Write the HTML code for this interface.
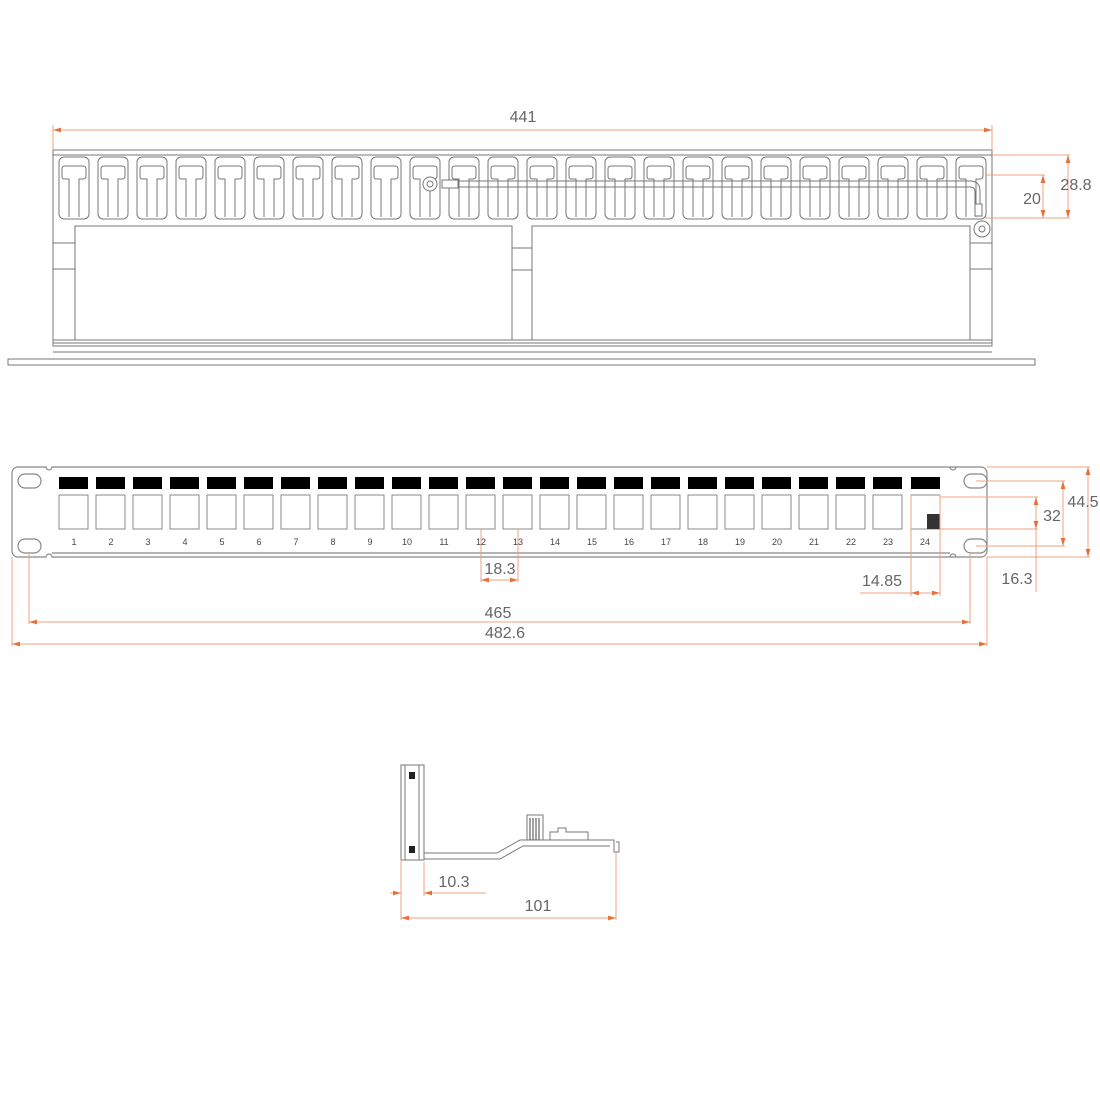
<!DOCTYPE html>
<html><head><meta charset="utf-8"><style>html,body{margin:0;padding:0;background:#fff}svg{display:block}</style></head>
<body>
<svg width="1100" height="1100" viewBox="0 0 1100 1100" xmlns="http://www.w3.org/2000/svg" font-family="Liberation Sans, sans-serif">
<defs>
<g id="slot" fill="none" stroke="#777" stroke-width="1">
<rect x="0" y="0" width="30" height="62" rx="5"/>
<path d="M10 60 V22 H5 Q3 22 3 19 V12 Q3 9 6 9 H24 Q27 9 27 12 V19 Q27 22 24 22 H20 V60"/>
</g>
<g id="port">
<rect x="0" y="0" width="29" height="12" fill="#000"/>
<rect x="0" y="18" width="29" height="34" fill="#fff" stroke="#888"/>
</g>
<marker id="ar" viewBox="0 0 10 6" refX="10" refY="3" markerWidth="8" markerHeight="5" orient="auto-start-reverse"><path d="M0 0L10 3L0 6z" fill="#e8703a"/></marker>
</defs>

<!-- TOP VIEW -->
<g fill="none" stroke="#777" stroke-width="1">
<rect x="53" y="150" width="939" height="196"/>
<line x1="53" y1="155" x2="992" y2="155"/>
<path d="M75 340 V226 H512 V340 M532 340 V226 H970 V340"/>
<path d="M512 248 H532 M512 270 H532 M53 243 H75 M53 269 H75 M970 243 H992 M970 269 H992"/>
<line x1="53" y1="340" x2="992" y2="340"/>
<line x1="53" y1="343" x2="992" y2="343"/>
<line x1="53" y1="352" x2="992" y2="352"/>
<rect x="8" y="359" width="1027" height="6"/>
</g>
<g>
<use href="#slot" x="59" y="157"/><use href="#slot" x="98" y="157"/><use href="#slot" x="137" y="157"/><use href="#slot" x="176" y="157"/><use href="#slot" x="215" y="157"/><use href="#slot" x="254" y="157"/><use href="#slot" x="293" y="157"/><use href="#slot" x="332" y="157"/><use href="#slot" x="371" y="157"/><use href="#slot" x="410" y="157"/><use href="#slot" x="449" y="157"/><use href="#slot" x="488" y="157"/><use href="#slot" x="527" y="157"/><use href="#slot" x="566" y="157"/><use href="#slot" x="605" y="157"/><use href="#slot" x="644" y="157"/><use href="#slot" x="683" y="157"/><use href="#slot" x="722" y="157"/><use href="#slot" x="761" y="157"/><use href="#slot" x="800" y="157"/><use href="#slot" x="839" y="157"/><use href="#slot" x="878" y="157"/><use href="#slot" x="917" y="157"/><use href="#slot" x="956" y="157"/>
</g>
<!-- ground wire -->
<g fill="none" stroke="#777" stroke-width="1">
<path d="M458 181 H970 Q980 181 980 191 V205 M458 187 H970 Q975 187 975 192 V205"/>
<circle cx="430" cy="184" r="7" fill="#fff"/><circle cx="430" cy="184" r="3"/>
<rect x="442" y="180" width="16" height="8" fill="#fff"/>
<rect x="975" y="204" width="7" height="12" fill="#fff"/>
<circle cx="982" cy="229" r="8" fill="#fff"/><circle cx="982" cy="229" r="3"/>
</g>
<!-- top dims -->
<g stroke="#f0a080" stroke-width="1" fill="none">
<line x1="53" y1="125" x2="53" y2="150"/><line x1="992" y1="125" x2="992" y2="150"/>
<line x1="53" y1="130" x2="992" y2="130" marker-start="url(#ar)" marker-end="url(#ar)"/>
<line x1="992" y1="155" x2="1070" y2="155"/><line x1="985" y1="218" x2="1070" y2="218"/>
<line x1="985" y1="175" x2="1045" y2="175"/>
<line x1="1068" y1="155" x2="1068" y2="218" marker-start="url(#ar)" marker-end="url(#ar)"/>
<line x1="1043" y1="175" x2="1043" y2="218" marker-start="url(#ar)" marker-end="url(#ar)"/>
</g>
<g fill="#666" font-size="16">
<text x="523" y="122" text-anchor="middle">441</text>
<text x="1076" y="190" text-anchor="middle">28.8</text>
<text x="1032" y="204" text-anchor="middle">20</text>
</g>

<!-- FRONT VIEW -->
<g fill="none" stroke="#888" stroke-width="1.2">
<path d="M18 467 H46 A3 3 0 0 0 52 467 H981 A6 6 0 0 1 987 473 V551 A6 6 0 0 1 981 557 H52 A3 3 0 0 0 46 557 H18 A6 6 0 0 1 12 551 V473 A6 6 0 0 1 18 467 Z"/>
<path d="M950 467 A3 3 0 0 0 956 467 M950 557 A3 3 0 0 1 956 557"/>
<line x1="52" y1="553" x2="950" y2="553"/>
<rect x="18" y="474" width="23" height="14" rx="7"/><rect x="18" y="539" width="23" height="14" rx="7"/>
<rect x="964" y="474" width="23" height="14" rx="7"/><rect x="964" y="539" width="23" height="14" rx="7"/>
</g>
<g>
<use href="#port" x="59" y="477"/><use href="#port" x="96" y="477"/><use href="#port" x="133" y="477"/><use href="#port" x="170" y="477"/><use href="#port" x="207" y="477"/><use href="#port" x="244" y="477"/><use href="#port" x="281" y="477"/><use href="#port" x="318" y="477"/><use href="#port" x="355" y="477"/><use href="#port" x="392" y="477"/><use href="#port" x="429" y="477"/><use href="#port" x="466" y="477"/><use href="#port" x="503" y="477"/><use href="#port" x="540" y="477"/><use href="#port" x="577" y="477"/><use href="#port" x="614" y="477"/><use href="#port" x="651" y="477"/><use href="#port" x="688" y="477"/><use href="#port" x="725" y="477"/><use href="#port" x="762" y="477"/><use href="#port" x="799" y="477"/><use href="#port" x="836" y="477"/><use href="#port" x="873" y="477"/><use href="#port" x="911" y="477"/>
<rect x="927" y="514" width="13" height="15" fill="#333"/>
</g>
<g fill="#444" font-size="9" text-anchor="middle">
<text x="74" y="545">1</text><text x="111" y="545">2</text><text x="148" y="545">3</text><text x="185" y="545">4</text><text x="222" y="545">5</text><text x="259" y="545">6</text><text x="296" y="545">7</text><text x="333" y="545">8</text><text x="370" y="545">9</text><text x="407" y="545">10</text><text x="444" y="545">11</text><text x="481" y="545">12</text><text x="518" y="545">13</text><text x="555" y="545">14</text><text x="592" y="545">15</text><text x="629" y="545">16</text><text x="666" y="545">17</text><text x="703" y="545">18</text><text x="740" y="545">19</text><text x="777" y="545">20</text><text x="814" y="545">21</text><text x="851" y="545">22</text><text x="888" y="545">23</text><text x="925" y="545">24</text>
</g>
<g stroke="#f0a080" stroke-width="1" fill="none">
<line x1="987" y1="467" x2="1090" y2="467"/><line x1="987" y1="557" x2="1090" y2="557"/>
<line x1="1088" y1="467" x2="1088" y2="557" marker-start="url(#ar)" marker-end="url(#ar)"/>
<line x1="976" y1="481" x2="1065" y2="481"/><line x1="976" y1="546" x2="1065" y2="546"/>
<line x1="1063" y1="481" x2="1063" y2="546" marker-start="url(#ar)" marker-end="url(#ar)"/>
<line x1="940" y1="497" x2="1038" y2="497"/><line x1="940" y1="529" x2="1038" y2="529"/>
<line x1="1036" y1="497" x2="1036" y2="529" marker-start="url(#ar)" marker-end="url(#ar)"/>
<line x1="1036" y1="529" x2="1036" y2="592"/>
<line x1="911" y1="495" x2="911" y2="596"/><line x1="940" y1="495" x2="940" y2="596"/>
<line x1="860" y1="593" x2="911" y2="593"/>
<line x1="911" y1="593" x2="940" y2="593" marker-start="url(#ar)" marker-end="url(#ar)"/>
<line x1="481" y1="529" x2="481" y2="582"/><line x1="518" y1="529" x2="518" y2="582"/>
<line x1="481" y1="580" x2="518" y2="580" marker-start="url(#ar)" marker-end="url(#ar)"/>
<line x1="29" y1="553" x2="29" y2="624"/><line x1="970" y1="553" x2="970" y2="624"/>
<line x1="29" y1="622" x2="970" y2="622" marker-start="url(#ar)" marker-end="url(#ar)"/>
<line x1="12" y1="557" x2="12" y2="646"/><line x1="987" y1="557" x2="987" y2="646"/>
<line x1="12" y1="644" x2="987" y2="644" marker-start="url(#ar)" marker-end="url(#ar)"/>
</g>
<g fill="#666" font-size="16">
<text x="1083" y="507" text-anchor="middle">44.5</text>
<text x="1052" y="521" text-anchor="middle">32</text>
<text x="1017" y="584" text-anchor="middle">16.3</text>
<text x="882" y="586" text-anchor="middle">14.85</text>
<text x="500" y="574" text-anchor="middle">18.3</text>
<text x="498" y="618" text-anchor="middle">465</text>
<text x="505" y="638" text-anchor="middle">482.6</text>
</g>

<!-- SIDE VIEW -->
<g fill="none" stroke="#777" stroke-width="1">
<rect x="401" y="765" width="23" height="95"/>
<line x1="405" y1="765" x2="405" y2="860"/><line x1="419" y1="765" x2="419" y2="860"/>
<path d="M424 853 H497 L520 840 H614 V852 H619 V842 H616"/>
<path d="M424 859 H500 L523 846 H610"/>
<rect x="527" y="815" width="16" height="25" fill="#fff"/>
<path d="M550 840 V832 H558 V828 H566 V832 H588 V840"/>
</g>
<rect x="409" y="772" width="6" height="7" fill="#222"/>
<rect x="409" y="846" width="6" height="7" fill="#222"/>
<g stroke="#444"><line x1="530" y1="818" x2="530" y2="840"/><line x1="533" y1="818" x2="533" y2="840"/><line x1="536" y1="818" x2="536" y2="840"/><line x1="539" y1="818" x2="539" y2="840"/></g>
<g stroke="#f0a080" stroke-width="1" fill="none">
<line x1="401" y1="860" x2="401" y2="920"/><line x1="424" y1="862" x2="424" y2="896"/>
<line x1="390" y1="893" x2="401" y2="893" marker-end="url(#ar)"/>
<line x1="486" y1="893" x2="424" y2="893" marker-end="url(#ar)"/>
<line x1="616" y1="852" x2="616" y2="920"/>
<line x1="401" y1="918" x2="616" y2="918" marker-start="url(#ar)" marker-end="url(#ar)"/>
</g>
<g fill="#666" font-size="16">
<text x="454" y="887" text-anchor="middle">10.3</text>
<text x="538" y="911" text-anchor="middle">101</text>
</g>
</svg>
</body></html>
